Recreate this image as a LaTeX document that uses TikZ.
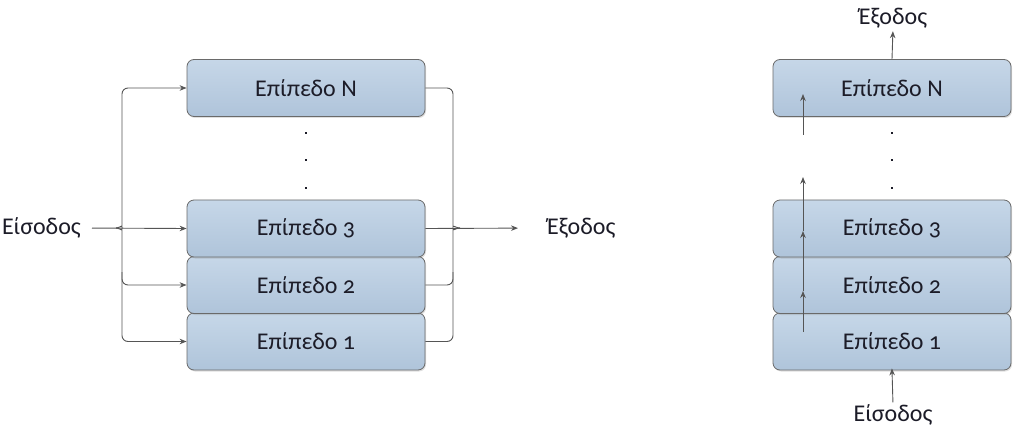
\documentclass[tikz,border=0pt]{standalone}
\usepackage{fontspec}
\setmainfont[Numbers=OldStyle]{Carlito}
\usetikzlibrary{arrows.meta,shadows}
\definecolor{boxtop}{HTML}{C6D7E8}
\definecolor{boxbot}{HTML}{AFC4DA}
\definecolor{edge}{HTML}{6A6A6A}
\definecolor{conn}{HTML}{555555}
\definecolor{txt}{HTML}{1C1C28}
\tikzset{
  layer/.style={draw=edge, line width=0.8pt, rounded corners=7pt, top color=boxtop, bottom color=boxbot,
    minimum width=238pt, minimum height=57pt, inner sep=0pt, text=txt, font=\fontsize{24}{28}\selectfont,
    drop shadow={shadow xshift=1pt, shadow yshift=-1.5pt, opacity=0.25}},
  lbl/.style={text=txt, font=\fontsize{24}{28}\selectfont, inner sep=0pt},
  line/.style={draw=conn, line width=0.9pt},
  arr/.style={line, -{Stealth[length=7pt,width=5.5pt]}},
  dot/.style={fill=txt, minimum size=2.4pt, inner sep=0pt, draw=none}
}
\begin{document}
\begin{tikzpicture}[x=1pt,y=-1pt]
\useasboundingbox (0,0) rectangle (1013,433);
% left diagram
\node[layer] (lN) at (306,88) {Επίπεδο N};
\node[layer] (l1) at (306,341.5) {Επίπεδο 1};
\node[layer] (l2) at (306,285) {Επίπεδο 2};
\node[layer] (l3) at (306,228.5) {Επίπεδο 3};
\node[dot] (ld1) at (306,133) {};
\node[dot] (ld2) at (306,160) {};
\node[dot] (ld3) at (306,188) {};
\node[lbl, anchor=east] (inL) at (81,228) {Είσοδος};
\node[lbl, anchor=west] (outL) at (547,228) {Έξοδος};
\coordinate (tipL) at (116,228);
\coordinate (tipR) at (460,228);
\coordinate (bL1) at (122,221);
\coordinate (bL2) at (122,235);
\coordinate (bL3) at (122,272);
\coordinate (bR1) at (453,221);
\coordinate (bR2) at (453,235);
\coordinate (bR3) at (453,272);
\draw[arr, shorten <=11pt] (inL.east) -- (l3.west);
\draw[arr, rounded corners=6pt] (tipL) to[out=0,in=-90] (bL1) |- (lN.west);
\draw[arr, rounded corners=6pt] (tipL) to[out=0,in=90] (bL2) |- (l1.west);
\draw[arr, rounded corners=6pt] (bL3) |- (l2.west);
\draw[arr, shorten >=29pt] (l3.east) -- (outL.west);
\draw[line, rounded corners=6pt] (lN.east) -| (bR1) to[out=-90,in=180] (tipR);
\draw[line, rounded corners=6pt] (l1.east) -| (bR2) to[out=90,in=180] (tipR);
\draw[line, rounded corners=6pt] (l2.east) -| (bR3);
% right diagram
\node[layer] (rN) at (892,88) {Επίπεδο N};
\node[layer] (r1) at (892,341.5) {Επίπεδο 1};
\node[layer] (r2) at (892,285) {Επίπεδο 2};
\node[layer] (r3) at (892,228.5) {Επίπεδο 3};
\node[dot] (rd1) at (892,133) {};
\node[dot] (rd2) at (892,160) {};
\node[dot] (rd3) at (892,188) {};
\node[lbl] (outR) at (893,18) {Έξοδος};
\node[lbl] (inR) at (893,415) {Είσοδος};
\draw[arr, shorten >=-2pt, shorten <=2pt] (inR.north) -- (r1.south);
\draw[arr, shorten >=3pt] (rN.north) -- (outR.south);
\coordinate (a0) at (803,332);
\coordinate (a1) at (803,291);
\coordinate (a2) at (803,231);
\coordinate (a3) at (803,177);
\coordinate (a4) at (803,135);
\coordinate (a5) at (803,94);
\draw[arr] (a0) -- (a1);
\draw[arr] (a1) -- (a2);
\draw[arr] (a2) -- (a3);
\draw[arr] (a4) -- (a5);
\end{tikzpicture}
\end{document}
